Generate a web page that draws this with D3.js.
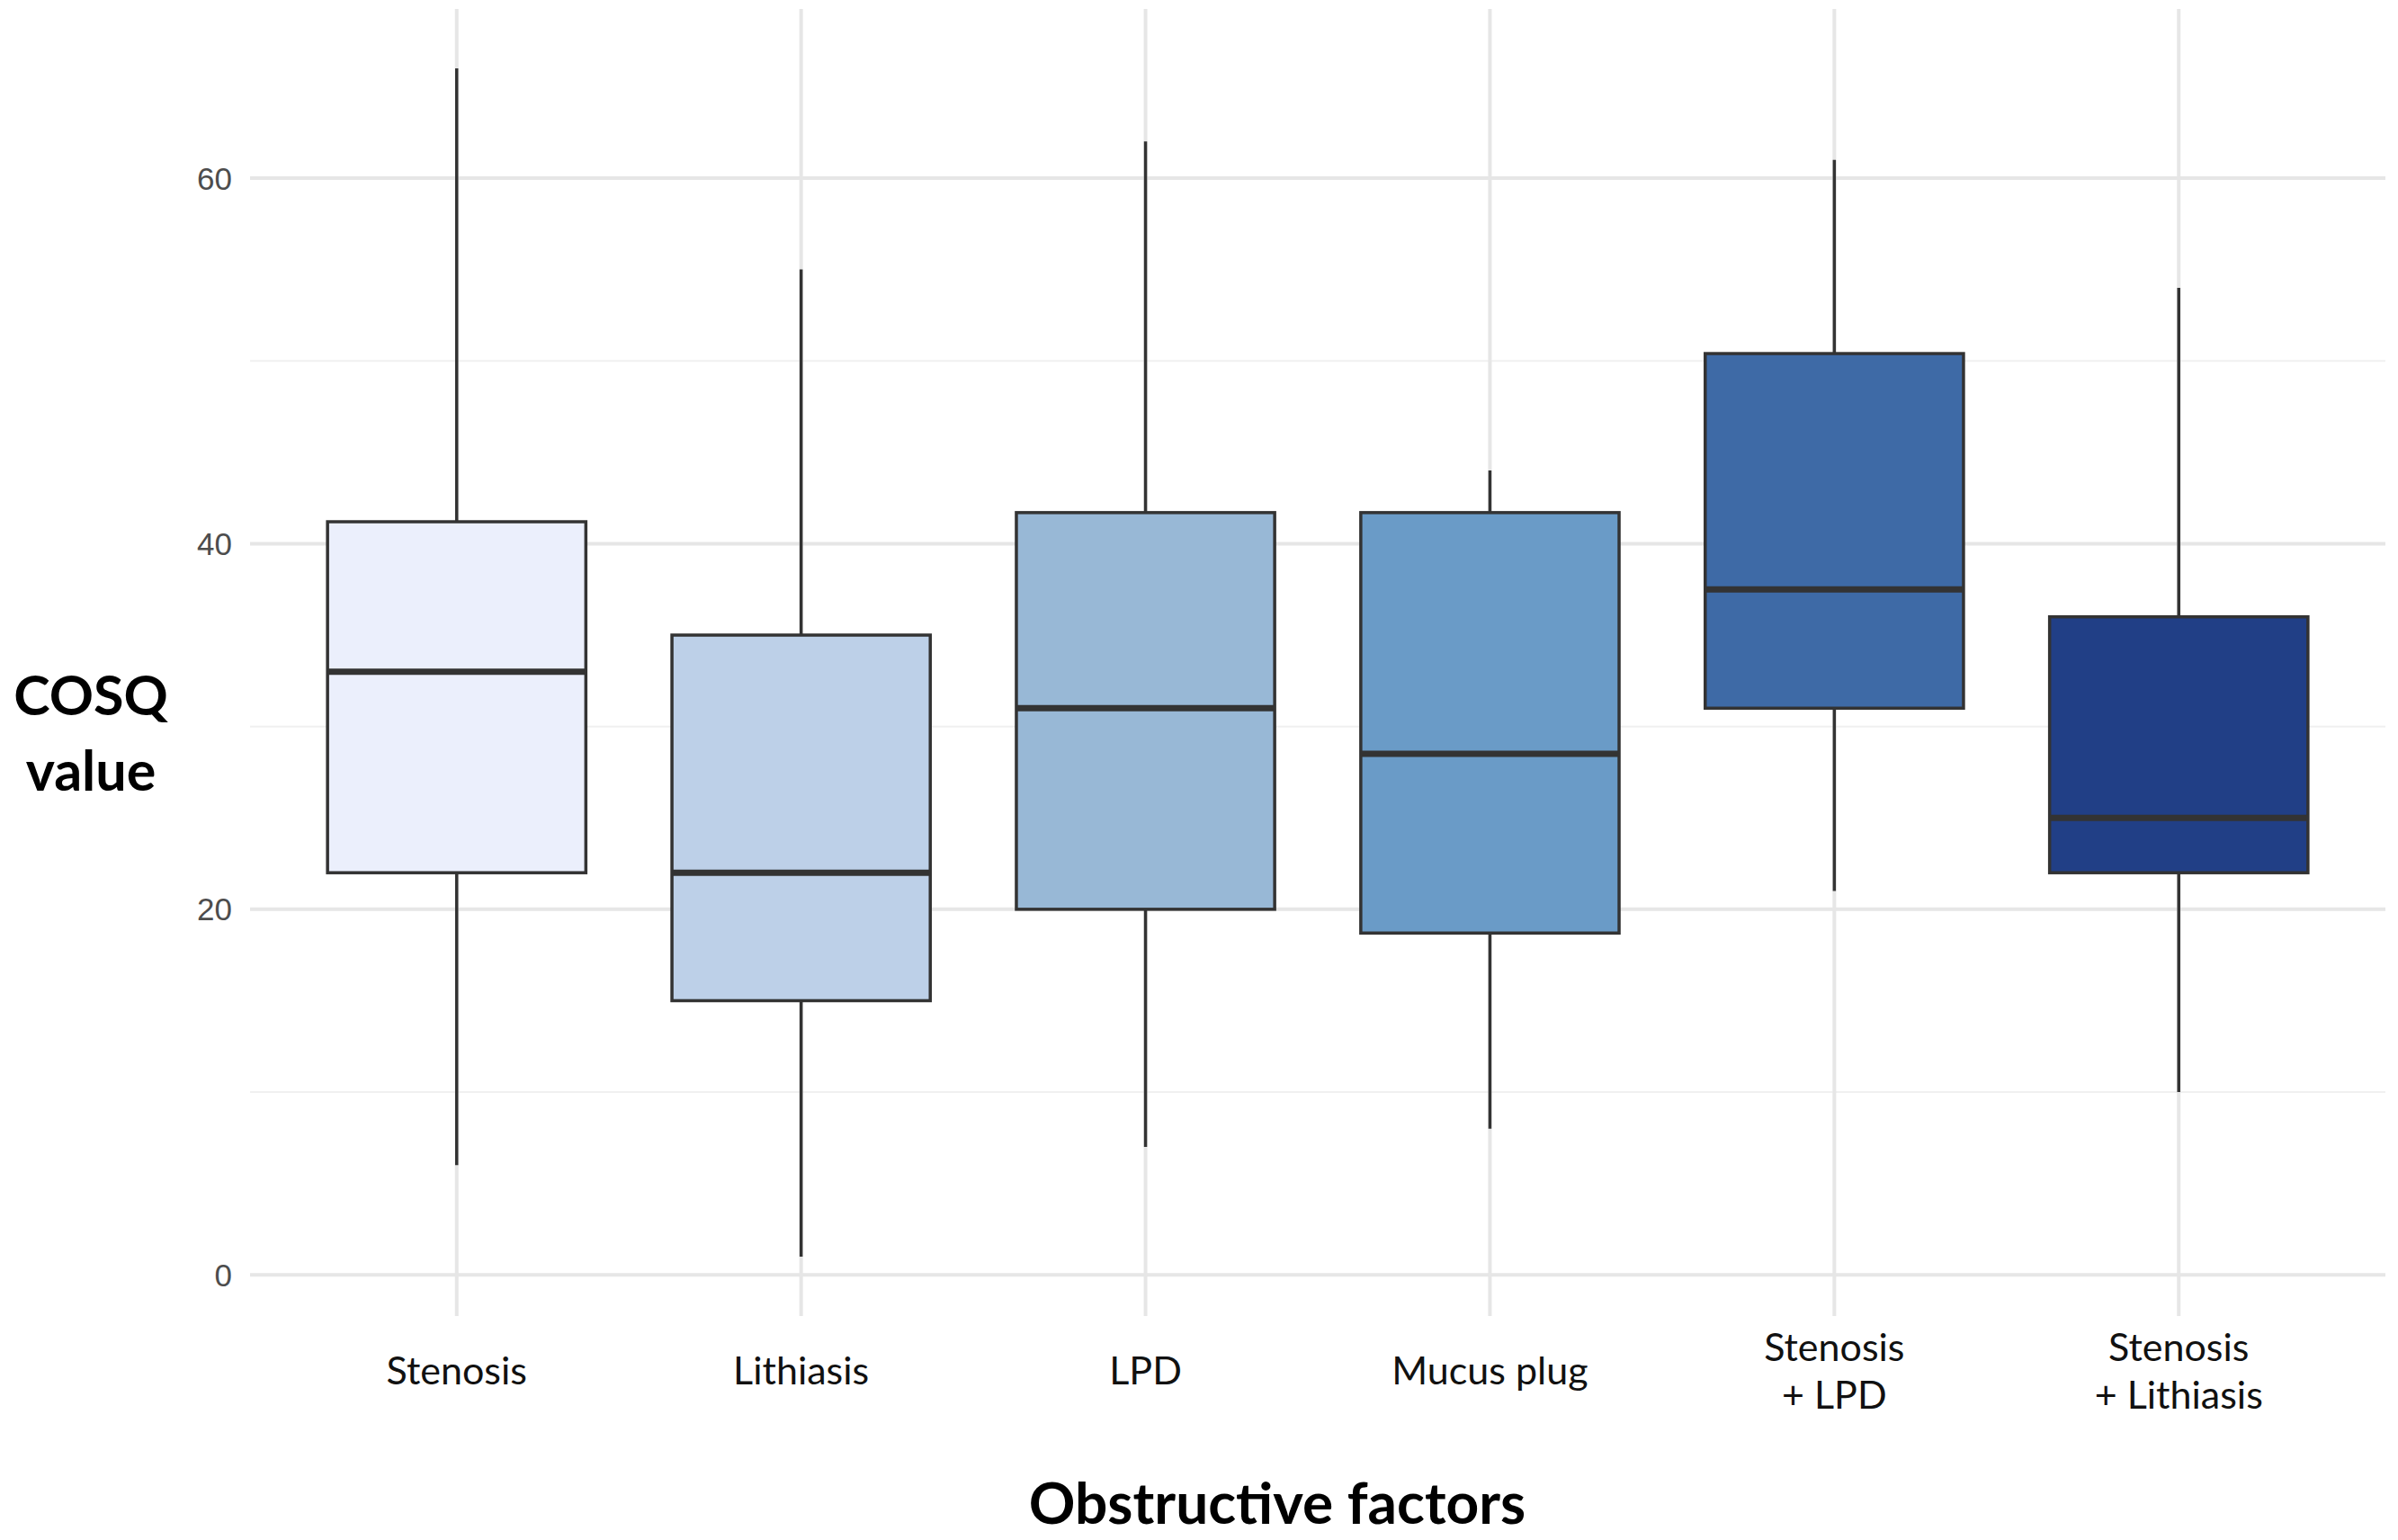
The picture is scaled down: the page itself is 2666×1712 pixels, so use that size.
<!DOCTYPE html>
<html>
<head>
<meta charset="utf-8">
<script src="https://cdn.jsdelivr.net/npm/d3@7"></script>
<style>
  html, body { margin: 0; padding: 0; background: #fff; }
</style>
</head>
<body>
<svg id="svg" width="2666" height="1712"></svg>
<script>
const categories = ["Stenosis", "Lithiasis", "LPD", "Mucus plug", "Stenosis\n+ LPD", "Stenosis\n+ Lithiasis"]
const whiskerLow = [6, 1, 7, 8, 21, 10]
const q1 = [22, 15, 20, 18.7, 31, 22]
const median = [33, 22, 31, 28.5, 37.5, 25]
const q3 = [41.2, 35, 41.7, 41.7, 50.4, 36]
const whiskerHigh = [66, 55, 62, 44, 61, 54]
const fills = ["#ebeffc", "#bdd0e8", "#98b8d6", "#6a9bc7", "#3e6aa6", "#213f86"]
const yTicks = [0, 20, 40, 60]
const yMinor = [10, 30, 50]

;(function() {

    const svg = d3.select('#svg')
    const plotLeft = 278, plotRight = 2652, plotTop = 10, plotBottom = 1463

    const boxes = categories.map((c, i) => ({
        name: c, lo: whiskerLow[i], q1: q1[i], med: median[i], q3: q3[i], hi: whiskerHigh[i], fill: fills[i]
    }))

    const x = d3.scaleBand()
        .domain(categories)
        .range([plotLeft, plotRight])
        .paddingOuter(0.1)
        .paddingInner(0)

    const y = d3.scaleLinear()
        .domain([-2.25, 69.25])
        .range([plotBottom, plotTop])

    const bw = x.bandwidth() * 0.75
    const cx = d => x(d.name) + x.bandwidth() / 2

    // grid
    svg.selectAll('.minor')
        .data(yMinor)
        .enter()
        .append('line')
            .attr('x1', plotLeft).attr('x2', plotRight)
            .attr('y1', d => y(d)).attr('y2', d => y(d))
            .style('stroke', '#f0f0f0')
            .style('stroke-width', 2)

    svg.selectAll('.major')
        .data(yTicks)
        .enter()
        .append('line')
            .attr('x1', plotLeft).attr('x2', plotRight)
            .attr('y1', d => y(d)).attr('y2', d => y(d))
            .style('stroke', '#e6e6e6')
            .style('stroke-width', 4)

    svg.selectAll('.vgrid')
        .data(boxes)
        .enter()
        .append('line')
            .attr('x1', cx).attr('x2', cx)
            .attr('y1', plotTop).attr('y2', plotBottom)
            .style('stroke', '#e6e6e6')
            .style('stroke-width', 4)

    // y tick labels
    svg.selectAll('.ylab')
        .data(yTicks)
        .enter()
        .append('text')
            .attr('x', 258)
            .attr('y', d => y(d))
            .attr('dy', '0.36em')
            .attr('text-anchor', 'end')
            .style('font-family', 'Liberation Sans, Arial, sans-serif')
            .style('font-size', '35px')
            .style('fill', '#4d4d4d')
            .text(d => d)

    // whiskers
    svg.selectAll('.whisk')
        .data(boxes)
        .enter()
        .append('line')
            .attr('x1', cx).attr('x2', cx)
            .attr('y1', d => y(d.lo)).attr('y2', d => y(d.hi))
            .style('stroke', '#333333')
            .style('stroke-width', 3.5)

    // boxes
    svg.selectAll('.box')
        .data(boxes)
        .enter()
        .append('rect')
            .attr('x', d => cx(d) - bw / 2)
            .attr('width', bw)
            .attr('y', d => y(d.q3))
            .attr('height', d => y(d.q1) - y(d.q3))
            .style('fill', d => d.fill)
            .style('stroke', '#333333')
            .style('stroke-width', 3.5)

    // medians
    svg.selectAll('.med')
        .data(boxes)
        .enter()
        .append('line')
            .attr('x1', d => cx(d) - bw / 2).attr('x2', d => cx(d) + bw / 2)
            .attr('y1', d => y(d.med)).attr('y2', d => y(d.med))
            .style('stroke', '#333333')
            .style('stroke-width', 7)

    // category labels
    const labelFont = 'Lato, "Open Sans", sans-serif'
    svg.selectAll('.xlab')
        .data(boxes)
        .enter()
        .append('text')
            .attr('text-anchor', 'middle')
            .style('font-family', labelFont)
            .style('font-size', '43px')
            .style('fill', '#111')
            .each(function(d) {
                const lines = d.name.split('\n')
                const mid = 1524
                const step = 53
                lines.forEach((l, i) => {
                    d3.select(this).append('tspan')
                        .attr('x', cx(d))
                        .attr('y', mid + (i - (lines.length - 1) / 2) * step)
                        .attr('dy', '0.35em')
                        .text(l)
                })
            })

    // axis titles
    const ytitle = svg.append('text')
        .attr('text-anchor', 'middle')
        .style('font-family', labelFont)
        .style('font-weight', 'bold')
        .style('font-size', '61px')
        .style('fill', '#000')
    ytitle.append('tspan').attr('x', 101).attr('y', 795).text('COSQ')
    ytitle.append('tspan').attr('x', 101).attr('y', 879).text('value')

    svg.append('text')
        .attr('x', 1420)
        .attr('y', 1694)
        .attr('text-anchor', 'middle')
        .style('font-family', labelFont)
        .style('font-weight', 'bold')
        .style('font-size', '64px')
        .style('fill', '#000')
        .text('Obstructive factors')

})();
</script>
</body>
</html>
